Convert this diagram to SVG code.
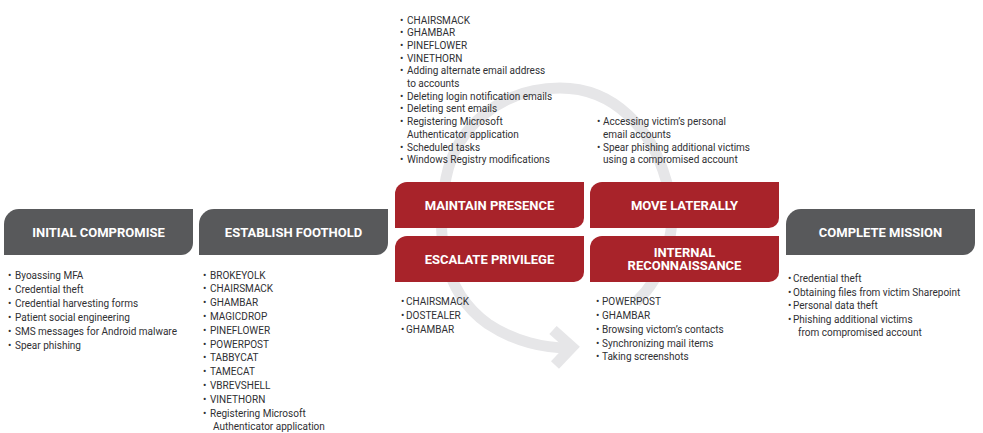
<svg xmlns="http://www.w3.org/2000/svg" width="983" height="433" viewBox="0 0 983 433">
<style>
.bg{fill:#ffffff}
.gray{fill:#58595b}
.red{fill:#a8232a}
.title{font-family:Roboto,"Liberation Sans",sans-serif;font-weight:700;font-size:13px;fill:#ffffff;text-anchor:middle}
.li{font-family:Roboto,"Liberation Sans",sans-serif;font-size:10px;fill:#303033}
.cyc{fill:none;stroke:#e6e6e8;stroke-width:11}
</style>
<rect class="bg" x="0" y="0" width="983" height="433"/>
<g id="connectors">
<path class="cyc" d="M 636 302 C 668 272 680 222 666 180 C 652 130 615 88 560 88 C 500 88 456 128 446 178 C 436 230 440 290 488 324 C 515 342 545 348 568 348"/>
<path class="cyc" d="M 553 330 L 572 347 L 555 365" stroke-linejoin="miter"/>
</g>
<g id="initial-compromise">
<path class="gray" d="M 19 209 H 193 V 243 A 12 12 0 0 1 181 255 H 4 V 224 A 15 15 0 0 1 19 209 Z"/>
<text class="title" x="98.5" y="236.6">INITIAL COMPROMISE</text>
<text class="li"><tspan x="8" y="278.5">•</tspan><tspan x="15" y="278.5">Byoassing MFA</tspan>
<tspan x="8" y="292.5">•</tspan><tspan x="15" y="292.5">Credential theft</tspan>
<tspan x="8" y="306.5">•</tspan><tspan x="15" y="306.5">Credential harvesting forms</tspan>
<tspan x="8" y="320.5">•</tspan><tspan x="15" y="320.5">Patient social engineering</tspan>
<tspan x="8" y="334.5">•</tspan><tspan x="15" y="334.5">SMS messages for Android malware</tspan>
<tspan x="8" y="348.5">•</tspan><tspan x="15" y="348.5">Spear phishing</tspan></text>
</g>
<g id="establish-foothold">
<path class="gray" d="M 214 209 H 388 V 243 A 12 12 0 0 1 376 255 H 199 V 224 A 15 15 0 0 1 214 209 Z"/>
<text class="title" x="293.5" y="236.6">ESTABLISH FOOTHOLD</text>
<text class="li"><tspan x="203" y="278.5">•</tspan><tspan x="210" y="278.5">BROKEYOLK</tspan>
<tspan x="203" y="292.3">•</tspan><tspan x="210" y="292.3">CHAIRSMACK</tspan>
<tspan x="203" y="306.1">•</tspan><tspan x="210" y="306.1">GHAMBAR</tspan>
<tspan x="203" y="319.9">•</tspan><tspan x="210" y="319.9">MAGICDROP</tspan>
<tspan x="203" y="333.7">•</tspan><tspan x="210" y="333.7">PINEFLOWER</tspan>
<tspan x="203" y="347.5">•</tspan><tspan x="210" y="347.5">POWERPOST</tspan>
<tspan x="203" y="361.3">•</tspan><tspan x="210" y="361.3">TABBYCAT</tspan>
<tspan x="203" y="375.1">•</tspan><tspan x="210" y="375.1">TAMECAT</tspan>
<tspan x="203" y="388.9">•</tspan><tspan x="210" y="388.9">VBREVSHELL</tspan>
<tspan x="203" y="402.7">•</tspan><tspan x="210" y="402.7">VINETHORN</tspan>
<tspan x="203" y="416.5">•</tspan><tspan x="210" y="416.5">Registering Microsoft</tspan>
<tspan x="213" y="430.3">Authenticator application</tspan></text>
</g>
<g id="maintain-presence">
<path class="red" d="M 407 182 H 584 V 218 A 10 10 0 0 1 574 228 H 395 V 194 A 12 12 0 0 1 407 182 Z"/>
<text class="title" x="489.5" y="209.6">MAINTAIN PRESENCE</text>
<text class="li"><tspan x="400" y="23.5">•</tspan><tspan x="407" y="23.5">CHAIRSMACK</tspan>
<tspan x="400" y="36.2">•</tspan><tspan x="407" y="36.2">GHAMBAR</tspan>
<tspan x="400" y="48.9">•</tspan><tspan x="407" y="48.9">PINEFLOWER</tspan>
<tspan x="400" y="61.6">•</tspan><tspan x="407" y="61.6">VINETHORN</tspan>
<tspan x="400" y="74.3">•</tspan><tspan x="407" y="74.3">Adding alternate email address</tspan>
<tspan x="407" y="87">to accounts</tspan>
<tspan x="400" y="99.7">•</tspan><tspan x="407" y="99.7">Deleting login notification emails</tspan>
<tspan x="400" y="112.4">•</tspan><tspan x="407" y="112.4">Deleting sent emails</tspan>
<tspan x="400" y="125.1">•</tspan><tspan x="407" y="125.1">Registering Microsoft</tspan>
<tspan x="407" y="137.8">Authenticator application</tspan>
<tspan x="400" y="150.5">•</tspan><tspan x="407" y="150.5">Scheduled tasks</tspan>
<tspan x="400" y="163.2">•</tspan><tspan x="407" y="163.2">Windows Registry modifications</tspan></text>
</g>
<g id="move-laterally">
<path class="red" d="M 602 182 H 779 V 218 A 10 10 0 0 1 769 228 H 590 V 194 A 12 12 0 0 1 602 182 Z"/>
<text class="title" x="684.5" y="209.6">MOVE LATERALLY</text>
<text class="li"><tspan x="597" y="125.1">•</tspan><tspan x="603" y="125.1">Accessing victim’s personal</tspan>
<tspan x="603" y="137.8">email accounts</tspan>
<tspan x="597" y="150.5">•</tspan><tspan x="603" y="150.5">Spear phishing additional victims</tspan>
<tspan x="603" y="163.2">using a compromised account</tspan></text>
</g>
<g id="escalate-privilege">
<path class="red" d="M 407 236 H 584 V 272 A 10 10 0 0 1 574 282 H 395 V 248 A 12 12 0 0 1 407 236 Z"/>
<text class="title" x="489.5" y="263.6">ESCALATE PRIVILEGE</text>
<text class="li"><tspan x="401" y="305.2">•</tspan><tspan x="406" y="305.2">CHAIRSMACK</tspan>
<tspan x="401" y="319">•</tspan><tspan x="406" y="319">DOSTEALER</tspan>
<tspan x="401" y="332.8">•</tspan><tspan x="406" y="332.8">GHAMBAR</tspan></text>
</g>
<g id="internal-reconnaissance">
<path class="red" d="M 602 236 H 779 V 272 A 10 10 0 0 1 769 282 H 590 V 248 A 12 12 0 0 1 602 236 Z"/>
<text class="title" x="684.5" y="257">INTERNAL</text>
<text class="title" x="684.5" y="270.3">RECONNAISSANCE</text>
<text class="li"><tspan x="596" y="305.2">•</tspan><tspan x="602" y="305.2">POWERPOST</tspan>
<tspan x="596" y="319">•</tspan><tspan x="602" y="319">GHAMBAR</tspan>
<tspan x="596" y="332.8">•</tspan><tspan x="602" y="332.8">Browsing victom’s contacts</tspan>
<tspan x="596" y="346.6">•</tspan><tspan x="602" y="346.6">Synchronizing mail items</tspan>
<tspan x="596" y="360.4">•</tspan><tspan x="602" y="360.4">Taking screenshots</tspan></text>
</g>
<g id="complete-mission">
<path class="gray" d="M 801 209 H 975 V 243 A 12 12 0 0 1 963 255 H 786 V 224 A 15 15 0 0 1 801 209 Z"/>
<text class="title" x="880.5" y="236.6">COMPLETE MISSION</text>
<text class="li"><tspan x="788" y="281.8">•</tspan><tspan x="793" y="281.8">Credential theft</tspan>
<tspan x="788" y="295.6">•</tspan><tspan x="793" y="295.6">Obtaining files from victim Sharepoint</tspan>
<tspan x="788" y="309.4">•</tspan><tspan x="793" y="309.4">Personal data theft</tspan>
<tspan x="788" y="323">•</tspan><tspan x="793" y="323">Phishing additional victims</tspan>
<tspan x="798" y="336">from compromised account</tspan></text>
</g>
</svg>
